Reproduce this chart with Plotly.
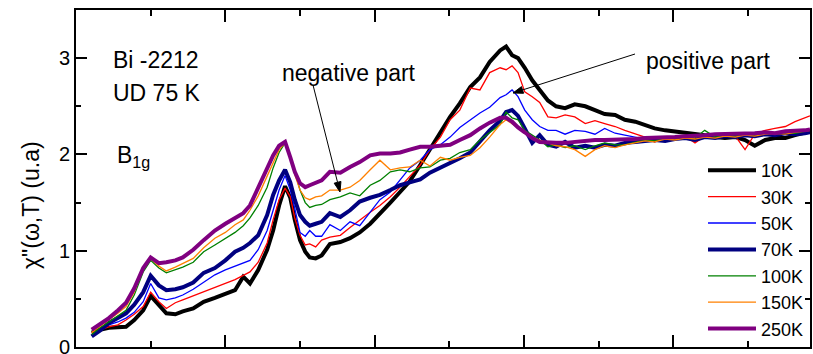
import math
import plotly.graph_objects as go

# Raman shift grid (cm^-1), shared by all temperature curves
shift = [21, 32, 44, 56, 67, 78, 90, 100, 111, 121, 133, 143, 157, 171, 186, 200, 213, 224, 233, 244,
         256, 264, 272, 280, 287, 293, 300, 307, 313, 321, 329, 340, 354, 367, 380, 394, 407, 421, 434, 447,
         461, 474, 488, 501, 514, 528, 541, 554, 568, 576, 584, 592, 601, 611, 621, 632, 643, 655, 668, 682,
         695, 708, 722, 735, 749, 762, 775, 789, 802, 816, 829, 842, 856, 869, 883, 896, 909, 923, 936, 950,
         963, 976, 983]

chi_10K = [0.15, 0.18, 0.20, 0.20, 0.21, 0.28, 0.38, 0.53, 0.44, 0.35, 0.34, 0.37, 0.40, 0.47, 0.51, 0.55, 0.59, 0.73, 0.66, 0.80,
           1.01, 1.21, 1.47, 1.67, 1.55, 1.32, 1.11, 0.99, 0.93, 0.92, 0.95, 1.07, 1.09, 1.13, 1.19, 1.28, 1.38, 1.50, 1.61, 1.72,
           1.89, 2.05, 2.22, 2.39, 2.53, 2.70, 2.80, 2.96, 3.08, 3.12, 3.03, 3.00, 2.90, 2.77, 2.67, 2.56, 2.50, 2.48, 2.52, 2.50,
           2.46, 2.42, 2.41, 2.36, 2.34, 2.30, 2.27, 2.25, 2.24, 2.23, 2.22, 2.20, 2.18, 2.17, 2.18, 2.15, 2.09, 2.15, 2.17, 2.17,
           2.20, 2.23, 2.24]
chi_30K = [0.15, 0.18, 0.21, 0.23, 0.28, 0.34, 0.42, 0.57, 0.47, 0.40, 0.46, 0.49, 0.53, 0.57, 0.62, 0.66, 0.70, 0.74, 0.78, 0.88,
           1.08, 1.32, 1.53, 1.65, 1.56, 1.34, 1.16, 1.06, 1.07, 1.04, 1.11, 1.14, 1.16, 1.24, 1.32, 1.40, 1.47, 1.56, 1.66, 1.77,
           1.89, 2.05, 2.18, 2.36, 2.46, 2.69, 2.67, 2.85, 2.90, 2.88, 2.92, 2.85, 2.65, 2.60, 2.54, 2.39, 2.38, 2.41, 2.39, 2.32,
           2.35, 2.32, 2.29, 2.25, 2.21, 2.18, 2.13, 2.18, 2.17, 2.19, 2.12, 2.19, 2.20, 2.22, 2.19, 2.05, 2.21, 2.25, 2.27, 2.29,
           2.34, 2.38, 2.40]
chi_50K = [0.12, 0.18, 0.23, 0.26, 0.30, 0.36, 0.47, 0.66, 0.51, 0.49, 0.51, 0.54, 0.60, 0.67, 0.75, 0.80, 0.84, 0.88, 0.90, 1.01,
           1.21, 1.42, 1.63, 1.78, 1.63, 1.44, 1.19, 1.15, 1.21, 1.15, 1.15, 1.27, 1.21, 1.30, 1.26, 1.40, 1.53, 1.61, 1.73, 1.86,
           1.94, 2.05, 2.10, 2.18, 2.28, 2.36, 2.43, 2.49, 2.59, 2.62, 2.67, 2.60, 2.46, 2.36, 2.29, 2.25, 2.25, 2.21, 2.25, 2.24,
           2.21, 2.27, 2.22, 2.20, 2.18, 2.16, 2.17, 2.15, 2.18, 2.16, 2.19, 2.17, 2.20, 2.18, 2.20, 2.21, 2.19, 2.22, 2.21, 2.23,
           2.24, 2.25, 2.26]
chi_70K = [0.11, 0.17, 0.25, 0.30, 0.35, 0.44, 0.57, 0.74, 0.64, 0.59, 0.60, 0.62, 0.67, 0.77, 0.82, 0.90, 0.99, 1.03, 1.08, 1.16,
           1.37, 1.58, 1.73, 1.84, 1.71, 1.53, 1.37, 1.30, 1.26, 1.28, 1.30, 1.39, 1.35, 1.42, 1.51, 1.55, 1.58, 1.63, 1.68, 1.71,
           1.74, 1.81, 1.86, 1.91, 1.96, 2.02, 2.13, 2.25, 2.35, 2.44, 2.46, 2.40, 2.27, 2.12, 2.20, 2.10, 2.08, 2.13, 2.07, 2.09,
           2.07, 2.10, 2.09, 2.12, 2.13, 2.14, 2.15, 2.14, 2.16, 2.17, 2.15, 2.18, 2.17, 2.19, 2.18, 2.20, 2.19, 2.21, 2.20, 2.22,
           2.21, 2.22, 2.23]
chi_100K = [0.13, 0.20, 0.26, 0.32, 0.38, 0.54, 0.78, 0.90, 0.82, 0.77, 0.80, 0.83, 0.88, 0.99, 1.06, 1.13, 1.19, 1.26, 1.34, 1.47,
            1.66, 1.86, 2.02, 2.12, 1.97, 1.82, 1.63, 1.50, 1.45, 1.47, 1.48, 1.53, 1.56, 1.60, 1.57, 1.68, 1.73, 1.82, 1.84, 1.82,
            1.86, 1.87, 1.94, 1.96, 2.02, 2.05, 2.15, 2.23, 2.31, 2.44, 2.38, 2.36, 2.25, 2.20, 2.15, 2.08, 2.10, 2.07, 2.09, 2.05,
            2.09, 2.12, 2.10, 2.10, 2.13, 2.15, 2.14, 2.17, 2.16, 2.19, 2.17, 2.25, 2.18, 2.20, 2.19, 2.21, 2.20, 2.22, 2.21, 2.23,
            2.22, 2.24, 2.25]
chi_150K = [0.15, 0.21, 0.28, 0.35, 0.42, 0.57, 0.82, 0.92, 0.84, 0.79, 0.83, 0.87, 0.92, 1.03, 1.13, 1.19, 1.27, 1.32, 1.42, 1.57,
            1.77, 1.91, 2.05, 2.12, 1.96, 1.79, 1.63, 1.55, 1.53, 1.56, 1.57, 1.63, 1.63, 1.66, 1.73, 1.84, 1.94, 1.84, 1.86, 1.87,
            1.94, 1.88, 1.97, 1.94, 1.97, 1.99, 2.07, 2.18, 2.31, 2.36, 2.32, 2.28, 2.23, 2.18, 2.15, 2.12, 2.09, 2.08, 2.05, 1.98,
            2.05, 2.09, 2.07, 2.10, 2.12, 2.14, 2.13, 2.16, 2.15, 2.17, 2.16, 2.18, 2.17, 2.19, 2.18, 2.20, 2.19, 2.21, 2.22, 2.21,
            2.23, 2.24, 2.25]
chi_250K = [0.18, 0.24, 0.30, 0.38, 0.46, 0.61, 0.82, 0.93, 0.87, 0.88, 0.90, 0.93, 1.01, 1.11, 1.21, 1.28, 1.34, 1.39, 1.47, 1.65,
            1.84, 1.99, 2.09, 2.13, 1.97, 1.82, 1.70, 1.66, 1.68, 1.71, 1.73, 1.82, 1.81, 1.87, 1.92, 1.99, 2.01, 2.01, 2.02, 2.05,
            2.08, 2.08, 2.09, 2.10, 2.15, 2.20, 2.27, 2.33, 2.38, 2.38, 2.34, 2.28, 2.23, 2.17, 2.13, 2.12, 2.12, 2.12, 2.13, 2.15,
            2.15, 2.15, 2.15, 2.15, 2.16, 2.17, 2.17, 2.18, 2.18, 2.19, 2.20, 2.20, 2.21, 2.21, 2.21, 2.22, 2.22, 2.23, 2.22, 2.24,
            2.24, 2.25, 2.26]

labels = ["10K", "30K", "50K", "70K", "100K", "150K", "250K"]
series = [chi_10K, chi_30K, chi_50K, chi_70K, chi_100K, chi_150K, chi_250K]
colors = ["#000000", "#ff0000", "#0000ff", "#000080", "#008000", "#ff8000", "#800080"]
widths = [4, 1.3, 1.3, 4, 1.3, 1.3, 4]

FONT = "Liberation Sans, Arial, sans-serif"

fig = go.Figure()
for name, ys, c, w in zip(labels, series, colors, widths):
    fig.add_trace(go.Scatter(x=shift, y=ys, mode="lines", name=name,
                             line=dict(color=c, width=w)))

axis_common = dict(showline=True, linecolor="black", linewidth=2, mirror="allticks",
                   ticks="inside", tickcolor="black", tickwidth=1.5, showgrid=False, zeroline=False)

fig.update_xaxes(range=[0, 983], tick0=0, dtick=200, ticklen=12, showticklabels=False,
                 minor=dict(dtick=100, ticks="inside", ticklen=6, tickcolor="black", tickwidth=1.5),
                 **axis_common)
fig.update_yaxes(range=[0, 3.5], tick0=0, dtick=1, ticklen=11, ticklabeloverflow="allow",
                 tickfont=dict(family=FONT, size=20, color="black"),
                 minor=dict(dtick=0.5, ticks="inside", ticklen=5, tickcolor="black", tickwidth=1.5),
                 **axis_common)

W, H = 734.0, 337.0
def px(xp, yp):
    return (xp - 76) / W, (347 - yp) / H

def txt(s, xp, yp, size=23):
    x, y = px(xp, yp)
    fig.add_annotation(text=s, xref="paper", yref="paper", x=x, y=y, xanchor="left",
                       yanchor="middle", showarrow=False, font=dict(family=FONT, size=size, color="black"))

txt("Bi -2212", 111, 60)
txt("UD 75 K", 111, 93)
txt("B<sub>1g</sub>", 115, 156)
txt("negative part", 280, 73)
txt("positive part", 644, 61)

# arrows drawn as shapes (line + filled head), in page-pixel geometry
def arrow(tail, tip, head_len=10, head_half=3.5):
    dx, dy = tip[0] - tail[0], tip[1] - tail[1]
    L = math.hypot(dx, dy)
    ux, uy = dx / L, dy / L
    bx, by = tip[0] - head_len * ux, tip[1] - head_len * uy
    nx, ny = -uy, ux
    x0, y0 = px(*tail)
    x1, y1 = px(bx, by)
    fig.add_shape(type="line", xref="paper", yref="paper", x0=x0, y0=y0, x1=x1, y1=y1,
                  line=dict(color="black", width=1))
    pts = [tip, (bx + head_half * nx, by + head_half * ny), (bx - head_half * nx, by - head_half * ny)]
    pp = [px(*p) for p in pts]
    path = "M{},{} L{},{} L{},{} Z".format(pp[0][0], pp[0][1], pp[1][0], pp[1][1], pp[2][0], pp[2][1])
    fig.add_shape(type="path", xref="paper", yref="paper", path=path,
                  fillcolor="black", line=dict(color="black", width=1))

arrow((313, 85), (340, 192))
arrow((635, 54), (513, 93))

# y-axis title
tx, ty = px(31, 205)
fig.add_annotation(text="χ\"(ω,T) (u.a)", xref="paper", yref="paper", x=tx, y=ty,
                   textangle=-90, showarrow=False, xanchor="center", yanchor="middle",
                   font=dict(family=FONT, size=23, color="black"))

lx, _ = px(703, 0)
fig.update_layout(
    width=813, height=354,
    margin=dict(l=76, r=3, t=10, b=7, autoexpand=False),
    paper_bgcolor="white", plot_bgcolor="white",
    showlegend=True,
    legend=dict(x=lx, y=0, xanchor="left", yanchor="bottom",
                bgcolor="rgba(0,0,0,0)", borderwidth=0, itemwidth=48,
                font=dict(family=FONT, size=18, color="black"), tracegroupgap=0),
    font=dict(family=FONT, color="black"),
)

fig.write_html("out.html")
